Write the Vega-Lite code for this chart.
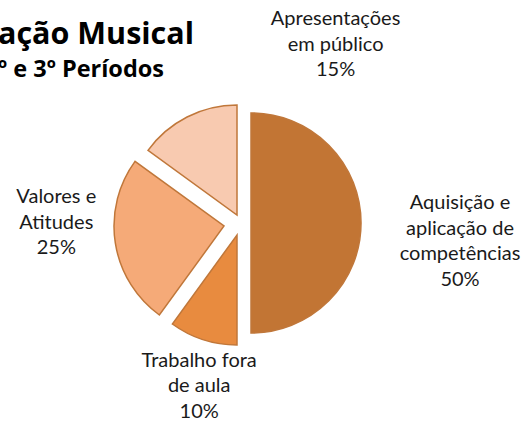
{
  "$schema": "https://vega.github.io/schema/vega-lite/v6.json",
  "width": 480,
  "height": 246,
  "autosize": "none",
  "padding": {"top": 100, "left": 0, "right": 46, "bottom": 77},
  "background": "white",
  "config": {"view": {"stroke": null}},
  "title": {
    "text": "ação Musical",
    "subtitle": "º e 3º Períodos",
    "anchor": "start",
    "frame": "group",
    "font": "Open Sans",
    "fontSize": 30.5,
    "fontWeight": "bold",
    "color": "#000000",
    "subtitleFont": "Open Sans",
    "subtitleFontSize": 23.5,
    "subtitleFontWeight": "bold",
    "subtitleColor": "#000000",
    "subtitlePadding": 7,
    "offset": -89,
    "dx": -2
  },
  "data": {
    "values": [
      {"categoria": "Aquisição e aplicação de competências", "rotulo": "Aquisição e\naplicação de\ncompetências\n50%", "percentagem": 50},
      {"categoria": "Trabalho fora de aula", "rotulo": "Trabalho fora\nde aula\n10%", "percentagem": 10},
      {"categoria": "Valores e Atitudes", "rotulo": "Valores e\nAtitudes\n25%", "percentagem": 25},
      {"categoria": "Apresentações em público", "rotulo": "Apresentações\nem público\n15%", "percentagem": 15}
    ]
  },
  "transform": [{"window": [{"op": "row_number", "as": "ordem"}]}],
  "encoding": {
    "theta": {"field": "percentagem", "type": "quantitative", "stack": true},
    "order": {"field": "ordem", "type": "quantitative"},
    "detail": {"field": "categoria", "type": "nominal"},
    "color": {
      "field": "categoria",
      "type": "nominal",
      "scale": {
        "domain": ["Aquisição e aplicação de competências", "Trabalho fora de aula", "Valores e Atitudes", "Apresentações em público"],
        "range": ["#C27534", "#E88B3F", "#F5AA78", "#F8CAB0"]
      },
      "legend": null
    }
  },
  "layer": [
    {
      "mark": {"type": "arc", "outerRadius": 110, "xOffset": 11, "yOffset": 0, "stroke": "#C0773A", "strokeWidth": 1.5},
      "encoding": {"opacity": {"condition": {"test": "datum.ordem === 1", "value": 1}, "value": 0}}
    },
    {
      "mark": {"type": "arc", "outerRadius": 110, "xOffset": -3, "yOffset": 12, "stroke": "#C0773A", "strokeWidth": 1.5},
      "encoding": {"opacity": {"condition": {"test": "datum.ordem === 2", "value": 1}, "value": 0}}
    },
    {
      "mark": {"type": "arc", "outerRadius": 110, "xOffset": -16, "yOffset": 3, "stroke": "#C0773A", "strokeWidth": 1.5},
      "encoding": {"opacity": {"condition": {"test": "datum.ordem === 3", "value": 1}, "value": 0}}
    },
    {
      "mark": {"type": "arc", "outerRadius": 110, "xOffset": -3, "yOffset": -8, "stroke": "#C0773A", "strokeWidth": 1.5},
      "encoding": {"opacity": {"condition": {"test": "datum.ordem === 4", "value": 1}, "value": 0}}
    },
    {
      "mark": {"type": "text", "radius": 220, "dy": -20, "font": "Lato", "fontSize": 20, "lineHeight": 25.5, "lineBreak": "\n", "align": "center", "baseline": "middle"},
      "encoding": {"color": {"value": "#1a1a1a"}, "text": {"condition": {"test": "datum.ordem === 1", "field": "rotulo"}, "value": ""}}
    },
    {
      "mark": {"type": "text", "radius": 145, "dx": 4, "font": "Lato", "fontSize": 20, "lineHeight": 25.5, "lineBreak": "\n", "align": "center", "baseline": "middle"},
      "encoding": {"color": {"value": "#1a1a1a"}, "text": {"condition": {"test": "datum.ordem === 2", "field": "rotulo"}, "value": ""}}
    },
    {
      "mark": {"type": "text", "radius": 186, "dy": -55, "font": "Lato", "fontSize": 20, "lineHeight": 25.5, "lineBreak": "\n", "align": "center", "baseline": "middle"},
      "encoding": {"color": {"value": "#1a1a1a"}, "text": {"condition": {"test": "datum.ordem === 3", "field": "rotulo"}, "value": ""}}
    },
    {
      "mark": {"type": "text", "radius": 230, "dx": 200, "dy": 1, "font": "Lato", "fontSize": 20, "lineHeight": 25.5, "lineBreak": "\n", "align": "center", "baseline": "middle"},
      "encoding": {"color": {"value": "#1a1a1a"}, "text": {"condition": {"test": "datum.ordem === 4", "field": "rotulo"}, "value": ""}}
    }
  ]
}
